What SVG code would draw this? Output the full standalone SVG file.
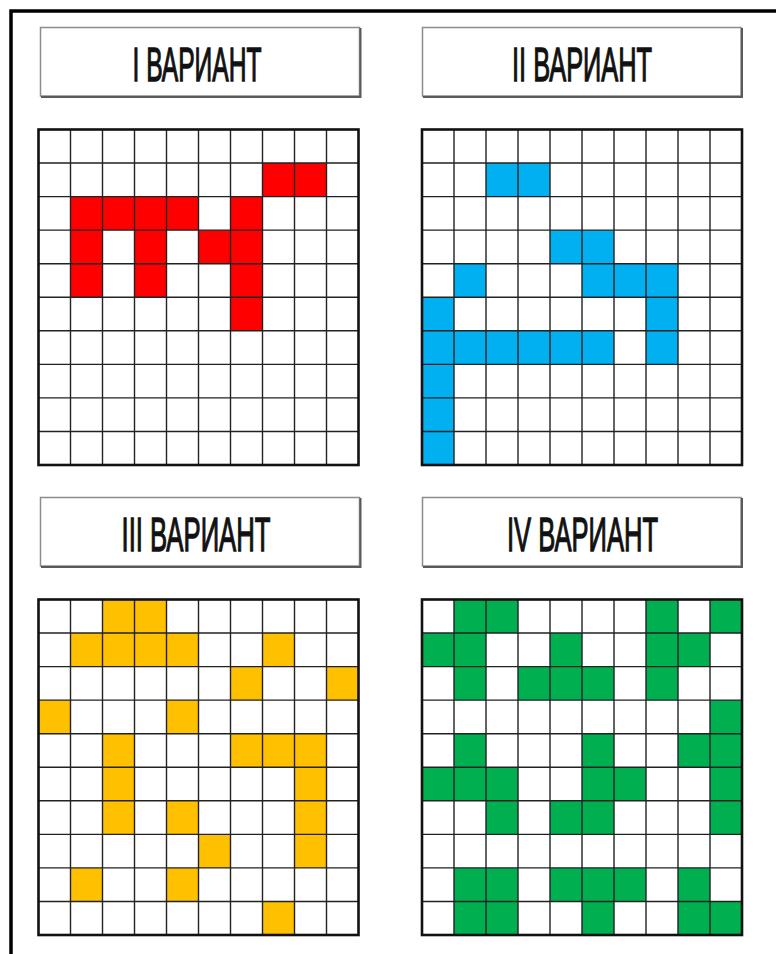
<svg xmlns="http://www.w3.org/2000/svg" width="776" height="954" viewBox="0 0 776 954">
<style>
.lbl{fill:#fff;stroke:#8c8c8c;stroke-width:1.5}
.shd{fill:none;stroke:#5a5a5a;stroke-width:2}
.t{font-family:"Liberation Sans Narrow","Liberation Sans",Arial,sans-serif;font-weight:normal;font-size:48px;fill:#111;stroke:#111;stroke-width:1.3;text-anchor:middle}
.bg{fill:#fff}
.r{fill:#FF0000}
.b{fill:#00B0F0}
.y{fill:#FFC000}
.g{fill:#00B050}
.in{fill:none;stroke:#222;stroke-width:1.4}
.out{fill:none;stroke:#111;stroke-width:2.6}
</style>
<defs>
<path id="lines" d="M32,0V335.5M64,0V335.5M96,0V335.5M128,0V335.5M160,0V335.5M192,0V335.5M224,0V335.5M256,0V335.5M288,0V335.5M0,33.55H320M0,67.1H320M0,100.65H320M0,134.2H320M0,167.75H320M0,201.3H320M0,234.85H320M0,268.4H320M0,301.95H320"/>
</defs>
<rect width="776" height="954" fill="#fff"/>
<path d="M11,956V11H778" fill="none" stroke="#000" stroke-width="3.5"/>

<g id="label-1">
<rect class="lbl" x="40.5" y="27.5" width="319" height="68.5"/>
<path class="shd" d="M360.5,28V97H41"/>
<text class="t" x="197" y="81" textLength="129" lengthAdjust="spacingAndGlyphs">I ВАРИАНТ</text>
</g>
<g id="label-2">
<rect class="lbl" x="422.5" y="27.5" width="318.5" height="68.5"/>
<path class="shd" d="M742,28V97H423"/>
<text class="t" x="582" y="81" textLength="140" lengthAdjust="spacingAndGlyphs">II ВАРИАНТ</text>
</g>
<g id="label-3">
<rect class="lbl" x="40.5" y="497.5" width="319" height="68.5"/>
<path class="shd" d="M360.5,498V567H41"/>
<text class="t" x="196" y="551" textLength="149" lengthAdjust="spacingAndGlyphs">III ВАРИАНТ</text>
</g>
<g id="label-4">
<rect class="lbl" x="422.5" y="497.5" width="318.5" height="68.5"/>
<path class="shd" d="M742,498V567H423"/>
<text class="t" x="582.5" y="551" textLength="151" lengthAdjust="spacingAndGlyphs">IV ВАРИАНТ</text>
</g>

<g id="grid-1" transform="translate(38.5,129.5)">
<rect class="bg" width="320" height="335.5"/>
<rect class="r" x="224" y="33.55" width="32" height="33.55"/>
<rect class="r" x="256" y="33.55" width="32" height="33.55"/>
<rect class="r" x="32" y="67.1" width="32" height="33.55"/>
<rect class="r" x="64" y="67.1" width="32" height="33.55"/>
<rect class="r" x="96" y="67.1" width="32" height="33.55"/>
<rect class="r" x="128" y="67.1" width="32" height="33.55"/>
<rect class="r" x="192" y="67.1" width="32" height="33.55"/>
<rect class="r" x="32" y="100.65" width="32" height="33.55"/>
<rect class="r" x="96" y="100.65" width="32" height="33.55"/>
<rect class="r" x="160" y="100.65" width="32" height="33.55"/>
<rect class="r" x="192" y="100.65" width="32" height="33.55"/>
<rect class="r" x="32" y="134.2" width="32" height="33.55"/>
<rect class="r" x="96" y="134.2" width="32" height="33.55"/>
<rect class="r" x="192" y="134.2" width="32" height="33.55"/>
<rect class="r" x="192" y="167.75" width="32" height="33.55"/>
<use href="#lines" class="in"/>
<rect class="out" width="320" height="335.5"/>
</g>

<g id="grid-2" transform="translate(422,129.5)">
<rect class="bg" width="320" height="335.5"/>
<rect class="b" x="64" y="33.55" width="32" height="33.55"/>
<rect class="b" x="96" y="33.55" width="32" height="33.55"/>
<rect class="b" x="128" y="100.65" width="32" height="33.55"/>
<rect class="b" x="160" y="100.65" width="32" height="33.55"/>
<rect class="b" x="32" y="134.2" width="32" height="33.55"/>
<rect class="b" x="160" y="134.2" width="32" height="33.55"/>
<rect class="b" x="192" y="134.2" width="32" height="33.55"/>
<rect class="b" x="224" y="134.2" width="32" height="33.55"/>
<rect class="b" x="0" y="167.75" width="32" height="33.55"/>
<rect class="b" x="224" y="167.75" width="32" height="33.55"/>
<rect class="b" x="0" y="201.3" width="192" height="33.55"/>
<rect class="b" x="224" y="201.3" width="32" height="33.55"/>
<rect class="b" x="0" y="234.85" width="32" height="100.65"/>
<use href="#lines" class="in"/>
<rect class="out" width="320" height="335.5"/>
</g>

<g id="grid-3" transform="translate(38.5,599.5)">
<rect class="bg" width="320" height="335.5"/>
<rect class="y" x="64" y="0" width="64" height="33.55"/>
<rect class="y" x="32" y="33.55" width="128" height="33.55"/>
<rect class="y" x="224" y="33.55" width="32" height="33.55"/>
<rect class="y" x="192" y="67.1" width="32" height="33.55"/>
<rect class="y" x="288" y="67.1" width="32" height="33.55"/>
<rect class="y" x="0" y="100.65" width="32" height="33.55"/>
<rect class="y" x="128" y="100.65" width="32" height="33.55"/>
<rect class="y" x="64" y="134.2" width="32" height="100.65"/>
<rect class="y" x="192" y="134.2" width="96" height="33.55"/>
<rect class="y" x="256" y="167.75" width="32" height="100.65"/>
<rect class="y" x="128" y="201.3" width="32" height="33.55"/>
<rect class="y" x="160" y="234.85" width="32" height="33.55"/>
<rect class="y" x="32" y="268.4" width="32" height="33.55"/>
<rect class="y" x="128" y="268.4" width="32" height="33.55"/>
<rect class="y" x="224" y="301.95" width="32" height="33.55"/>
<use href="#lines" class="in"/>
<rect class="out" width="320" height="335.5"/>
</g>

<g id="grid-4" transform="translate(422,599.5)">
<rect class="bg" width="320" height="335.5"/>
<rect class="g" x="32" y="0" width="64" height="33.55"/>
<rect class="g" x="224" y="0" width="32" height="33.55"/>
<rect class="g" x="288" y="0" width="32" height="33.55"/>
<rect class="g" x="0" y="33.55" width="64" height="33.55"/>
<rect class="g" x="128" y="33.55" width="32" height="33.55"/>
<rect class="g" x="224" y="33.55" width="64" height="33.55"/>
<rect class="g" x="32" y="67.1" width="32" height="33.55"/>
<rect class="g" x="96" y="67.1" width="96" height="33.55"/>
<rect class="g" x="224" y="67.1" width="32" height="33.55"/>
<rect class="g" x="288" y="100.65" width="32" height="33.55"/>
<rect class="g" x="32" y="134.2" width="32" height="33.55"/>
<rect class="g" x="160" y="134.2" width="32" height="33.55"/>
<rect class="g" x="256" y="134.2" width="64" height="33.55"/>
<rect class="g" x="0" y="167.75" width="96" height="33.55"/>
<rect class="g" x="160" y="167.75" width="64" height="33.55"/>
<rect class="g" x="288" y="167.75" width="32" height="33.55"/>
<rect class="g" x="64" y="201.3" width="32" height="33.55"/>
<rect class="g" x="128" y="201.3" width="64" height="33.55"/>
<rect class="g" x="288" y="201.3" width="32" height="33.55"/>
<rect class="g" x="32" y="268.4" width="64" height="33.55"/>
<rect class="g" x="128" y="268.4" width="96" height="33.55"/>
<rect class="g" x="256" y="268.4" width="32" height="33.55"/>
<rect class="g" x="32" y="301.95" width="64" height="33.55"/>
<rect class="g" x="160" y="301.95" width="32" height="33.55"/>
<rect class="g" x="256" y="301.95" width="64" height="33.55"/>
<use href="#lines" class="in"/>
<rect class="out" width="320" height="335.5"/>
</g>
</svg>
